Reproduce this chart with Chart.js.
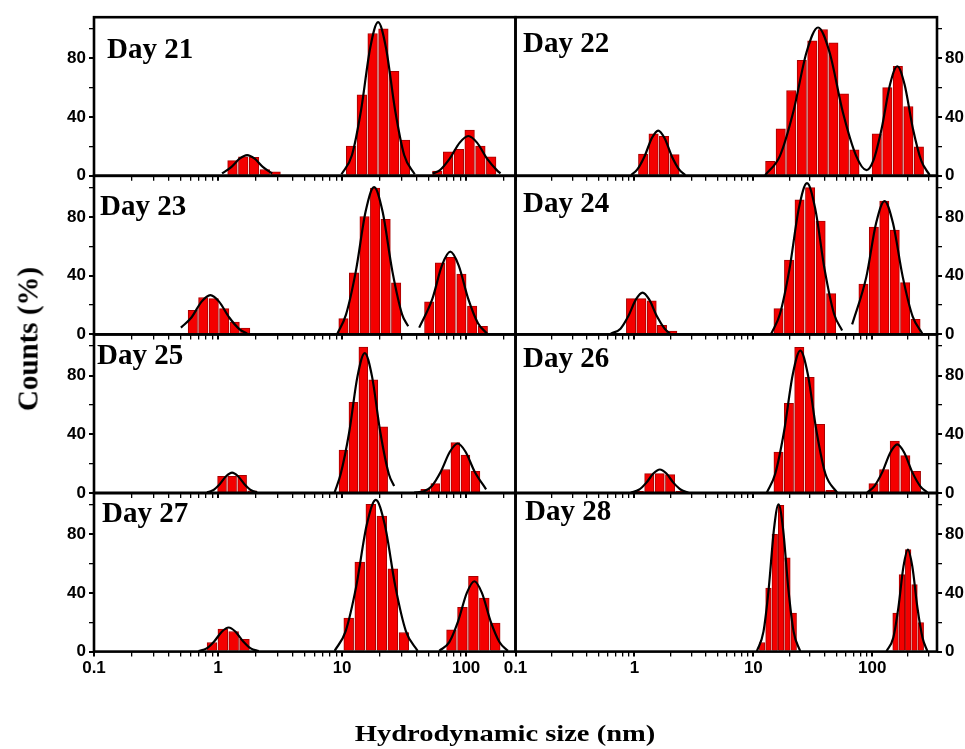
<!DOCTYPE html>
<html><head><meta charset="utf-8">
<script src="https://cdn.jsdelivr.net/npm/chart.js@4.4.1/dist/chart.umd.min.js"></script>
<style>
html,body{margin:0;padding:0;background:#fff}
#wrap{position:relative;width:965px;height:749px;overflow:hidden;background:#fff}
#wrap canvas{position:absolute;left:0;top:0}
.day{position:absolute;font-family:"Liberation Serif","Times New Roman",serif;font-weight:bold;font-size:29px;line-height:29px;color:#000;white-space:nowrap;z-index:5}
#ytitle{position:absolute;left:28px;top:339px;transform:translate(-50%,-50%) rotate(-90deg);font-family:"Liberation Serif","Times New Roman",serif;font-weight:bold;font-size:29px;line-height:29px;white-space:nowrap;color:#000}
#xtitle{position:absolute;left:505px;top:722px;transform:translateX(-50%) scaleX(1.24);font-family:"Liberation Serif","Times New Roman",serif;font-weight:bold;font-size:23px;line-height:23px;white-space:nowrap;color:#000}
</style></head>
<body><div id="wrap">
<canvas id="c0" width="965" height="749"></canvas>
<canvas id="c1" width="965" height="749"></canvas>
<canvas id="c2" width="965" height="749"></canvas>
<canvas id="c3" width="965" height="749"></canvas>
<canvas id="c4" width="965" height="749"></canvas>
<canvas id="c5" width="965" height="749"></canvas>
<canvas id="c6" width="965" height="749"></canvas>
<canvas id="c7" width="965" height="749"></canvas>
<div class="day" style="left:107px;top:34px">Day 21</div>
<div class="day" style="left:523px;top:28px">Day 22</div>
<div class="day" style="left:100px;top:191px">Day 23</div>
<div class="day" style="left:523px;top:188px">Day 24</div>
<div class="day" style="left:97px;top:340px">Day 25</div>
<div class="day" style="left:523px;top:343px">Day 26</div>
<div class="day" style="left:102px;top:498px">Day 27</div>
<div class="day" style="left:525px;top:496px">Day 28</div>
<div id="ytitle">Counts (%)</div>
<div id="xtitle">Hydrodynamic size (nm)</div>
</div>
<script>
// ---- axis ticks ----
const xTickValues = [0.1, 1, 10, 100];
const xTickLabels = ['0.1', '1', '10', '100'];
const yTickLabels = [0, 40, 80];

// ---- histogram bars: [size nm, counts %] ----
const bar21 = [[1.307,10.3],[1.597,13.0],[1.951,12.5],[2.383,4.3],[2.911,2.7],
  [11.81,20.3],[14.43,55.2],[17.62,96.9],[21.53,100],[26.30,71.1],[32.12,24.4],
  [58.55,3.2],[71.51,16.4],[87.35,18.0],[106.7,31.2],[130.3,20.3],[159.2,13.0]];
const bar22 = [[1.184,14.8],[1.449,28.5],[1.774,26.9],[2.171,14.4],
  [13.86,9.8],[16.99,31.9],[20.83,58.1],[25.54,78.7],[31.31,91.9],[38.39,99.6],[47.07,90.5],[57.70,55.9],[70.74,17.6],
  [109.1,28.5],[133.8,60.0],[164.0,74.6],[201.1,47.2],[246.5,19.8]];
const bar23 = [[0.626,16.4],[0.760,25.1],[0.923,24.4],[1.121,17.6],[1.362,8.4],[1.655,4.3],
  [10.26,10.7],[12.48,41.9],[15.17,80.3],[18.45,99.6],[22.44,78.4],[27.28,35.1],
  [50.4,22.1],[61.5,48.8],[75.1,52.4],[91.6,41.0],[111.8,19.2],[136.4,5.5]];
const bar24 = [[0.936,24.4],[1.143,24.4],[1.396,22.8],[1.705,6.2],[2.082,2.3],
  [16.28,17.6],[19.96,50.6],[24.47,91.7],[30.00,99.9],[36.78,77.1],[45.09,27.8],
  [84.3,34.2],[103.1,73.0],[126.2,90.8],[154.4,71.1],[188.9,35.3],[231.1,10.3]];
const bar25 = [[1.077,11.4],[1.298,11.4],[1.564,12.0],[1.885,1.4],
  [10.26,29.2],[12.34,61.8],[14.83,99.4],[17.83,77.1],[21.44,45.1],
  [46.8,2.5],[56.4,6.4],[68.0,16.0],[81.9,34.4],[98.7,25.8],[118.9,14.8]];
const bar26 = [[1.089,1.2],[1.333,13.2],[1.630,13.2],[1.995,12.5],[2.441,1.2],
  [16.28,27.8],[19.90,61.1],[24.33,99.2],[29.74,78.7],[36.36,46.7],[44.45,1.8],
  [102.4,6.4],[125.8,16.0],[154.5,35.3],[189.7,25.5],[233.0,14.8]];
const bar27 = [[0.894,6.2],[1.093,15.3],[1.336,13.7],[1.633,8.4],
  [11.31,22.8],[13.88,60.9],[17.04,100.3],[20.91,92.3],[25.66,56.3],[31.50,13.0],
  [76.2,14.8],[93.4,30.1],[114.4,51.3],[140.1,36.5],[171.6,19.4]];
const bar28 = [[11.86,6.2],[13.40,43.3],[15.14,79.8],[17.11,99.6],[19.34,63.8],[21.85,26.2],
  [156.9,26.2],[177.3,52.4],[200.3,69.5],[226.4,45.6],[255.8,19.8]];

// ---- fitted curves: [size nm, counts %] ----
const fit21a = [[1.077,1.6],[1.284,6.1],[1.501,11.8],[1.716,14.1],[1.962,11.8],[2.294,6.1],[2.733,1.6]];
const fit21b = [[9.89,1],[12.02,14.2],[14.24,45],[16.87,87.4],[19.51,104.7],[22.56,87.4],[26.72,45],[31.65,14.2],[38.49,1]];
const fit21c = [[53.7,1.6],[61.2,3.7],[73.7,11.7],[88.8,22.6],[104.2,27.1],[122.3,22.6],[147.3,11.7],[177.4,3.7],[189,1.6]];
const fit22a = [[0.938,0.5],[1.054,4.2],[1.215,13.2],[1.402,25.7],[1.584,30.8],[1.790,25.7],[2.065,13.2],[2.382,4.2],[2.676,0.5]];
const fit22b = [[12.57,0.5],[16.73,13.6],[21.65,43.4],[28.03,84.3],[34.98,101],[43.64,84.3],[56.5,43.4],[73.16,13.6],[89.36,3.9],
  [101.8,10.1],[119.8,32.1],[141.1,62.3],[162.2,74.6],[186.6,62.3],[219.6,32.1],[258.5,10.1],[303.6,0.5]];
const fit23a = [[0.502,4.6],[0.610,11.5],[0.737,22.3],[0.867,26.7],[1.019,22.3],[1.231,11.5],[1.486,3.6],[1.716,0.5]];
const fit23b = [[9.16,0.5],[10.75,13.5],[12.91,43.1],[15.49,83.8],[18.11,100.3],[21.18,83.8],[25.41,43.1],[30.5,13.5],[34.1,5.5]];
const fit23c = [[41.84,4.6],[53.42,24.2],[63.86,47],[74.54,56.3],[86.99,47],[104.0,24.2],[124.6,7.6],[147.6,0.5]];
const fit24a = [[0.632,0.5],[0.764,3.9],[0.887,12.3],[1.030,23.8],[1.170,28.5],[1.330,23.8],[1.545,12.3],[1.794,3.9],[1.988,0.5]];
const fit24b = [[14.13,0.5],[16.73,13.9],[20.10,44.3],[24.14,86],[28.25,103],[33.06,86],[39.72,44.3],[47.74,13.9],[55.76,2.7]];
const fit24c = [[67.69,6.8],[89.01,39],[107.7,75.8],[126.8,90.8],[149.2,75.8],[180.5,39],[218.3,12.3],[263.5,0.5]];
const fit25a = [[0.815,0.5],[0.911,1.9],[1.031,6],[1.167,11.6],[1.298,13.9],[1.443,11.6],[1.633,6],[1.848,1.9],[2.067,0.5]];
const fit25b = [[8.71,0.5],[9.74,12.9],[11.39,41],[13.32,79.6],[15.23,95.3],[17.41,79.6],[20.36,41],[23.81,12.9],[26.28,4.8]];
const fit25c = [[38.13,0.3],[45.6,1.1],[52.71,4.6],[62.44,14.5],[73.96,28.1],[85.52,33.7],[98.9,28.1],[117.2,14.5],[144.8,2.5]];
const fit26a = [[0.933,0.3],[1.089,2.2],[1.256,6.9],[1.449,13.4],[1.637,16],[1.850,13.4],[2.134,6.9],[2.462,2.2],[2.837,0.3]];
const fit26b = [[13.0,0.3],[15.27,13.1],[18.1,41.7],[21.46,80.9],[24.81,96.9],[28.7,80.9],[34.01,41.7],[40.32,13.1],[50.58,0.3]];
const fit26c = [[90.58,0.3],[103.8,4.5],[121.3,14.2],[141.9,27.6],[162.2,33.1],[185.4,27.6],[216.8,14.2],[253.5,4.5],[290.4,0.3]];
const fit27a = [[0.697,0.3],[0.809,2.2],[0.934,7.1],[1.077,13.7],[1.218,16.4],[1.377,13.7],[1.590,7.1],[1.835,2.2],[2.129,0.3]];
const fit27b = [[8.71,0.5],[10.69,14],[13.0,44.4],[15.8,86.3],[18.69,103.3],[22.1,86.3],[26.87,44.4],[32.67,14],[40.62,0.5]];
const fit27c = [[60.73,0.5],[73.15,6.5],[86.08,20.6],[101.3,40],[116.5,47.9],[134.0,40],[157.6,20.6],[185.5,6.5],[217,0.5]];
const fit28a = [[10.7,0.3],[12.16,13.6],[13.47,43.1],[14.92,83.8],[16.28,100.3],[17.76,83.8],[19.67,43.1],[21.79,13.6],[24.76,0.3]];
const fit28b = [[131.7,0.3],[150.1,9.4],[165.7,29.9],[182.9,58],[199.2,69.5],[217,58],[239.6,29.9],[264.5,9.4],[290.4,0.3]];

// ---- panel layout (styles only) ----
const panels = [
  {bars: bar21, fits: [fit21a, fit21b, fit21c], col: 0, row: 0, thick: 9.6},
  {bars: bar22, fits: [fit22a, fit22b], col: 1, row: 0, thick: 9.4},
  {bars: bar23, fits: [fit23a, fit23b, fit23c], col: 0, row: 1, thick: 9.4},
  {bars: bar24, fits: [fit24a, fit24b, fit24c], col: 1, row: 1, thick: 9.3},
  {bars: bar25, fits: [fit25a, fit25b, fit25c], col: 0, row: 2, thick: 8.9},
  {bars: bar26, fits: [fit26a, fit26b, fit26c], col: 1, row: 2, thick: 9.3},
  {bars: bar27, fits: [fit27a, fit27b, fit27c], col: 0, row: 3, thick: 9.8},
  {bars: bar28, fits: [fit28a, fit28b], col: 1, row: 3, thick: 5.6}
];

const X_MIN = 0.1, X_MAX_LEFT = 250, X_MAX_RIGHT = 350, Y_MAX = 108;
const tickFont = {family: "Arial, 'Liberation Sans', sans-serif", size: 17, weight: 'bold'};

function isDecade(v) { const l = Math.log10(v); return Math.abs(l - Math.round(l)) < 1e-6; }
function isNice(v) {
  const e = Math.floor(Math.log10(v) + 1e-9);
  const s = v / Math.pow(10, e);
  return Math.abs(s - Math.round(s)) < 1e-6;
}

const framePlugin = {
  id: 'frame',
  afterDatasetsDraw(chart) {
    const {ctx, chartArea: a} = chart;
    ctx.save();
    ctx.strokeStyle = '#000';
    ctx.lineWidth = 2.6;
    ctx.strokeRect(a.left, a.top, a.right - a.left, a.bottom - a.top);
    ctx.restore();
  }
};

panels.forEach((p, i) => {
  const top = 17.2 + p.row * 158.6;
  const bottom = top + 158.6;
  const isBottom = p.row === 3;
  const isLeft = p.col === 0;
  const xh = isBottom ? 30 : 8;
  const yw = isLeft ? 40 : 28;
  const padding = isLeft
    ? {left: 94 - yw, right: 965 - 515.5, top: top, bottom: 749 - bottom - xh}
    : {left: 515.5, right: 965 - 937 - yw, top: top, bottom: 749 - bottom - xh};

  const datasets = [];
  p.fits.forEach(f => {
    datasets.push({
      type: 'line',
      data: f.map(([s, c]) => ({x: s, y: c})),
      borderColor: '#000',
      borderWidth: 2.2,
      pointRadius: 0,
      fill: false,
      cubicInterpolationMode: 'monotone',
      order: 1
    });
  });
  datasets.push({
    type: 'bar',
    data: p.bars.map(([s, c]) => ({x: s, y: c})),
    backgroundColor: '#f40000',
    borderColor: '#a80000',
    borderWidth: 1,
    barThickness: p.thick,
    order: 2
  });

  new Chart(document.getElementById('c' + i), {
    type: 'bar',
    data: {datasets},
    options: {
      responsive: false,
      animation: false,
      devicePixelRatio: 1,
      layout: {padding},
      plugins: {legend: {display: false}, tooltip: {enabled: false}},
      scales: {
        x: {
          type: 'logarithmic',
          min: X_MIN,
          max: isLeft ? X_MAX_LEFT : X_MAX_RIGHT,
          offset: false,
          afterBuildTicks: (s) => { s.ticks = s.ticks.filter(t => isNice(t.value)); },
          afterFit: (s) => { s.height = xh; },
          border: {display: false},
          grid: {
            offset: false,
            drawOnChartArea: false,
            drawTicks: true,
            tickLength: 5,
            color: '#000',
            lineWidth: (ctx) => (ctx.tick && isDecade(ctx.tick.value)) ? 2 : 1.3
          },
          ticks: {
            display: isBottom,
            autoSkip: false,
            maxRotation: 0,
            minRotation: 0,
            padding: 2,
            color: '#000',
            font: tickFont,
            callback: (v) => {
              const k = xTickValues.findIndex(t => Math.abs(Math.log10(t) - Math.log10(v)) < 1e-6);
              return k >= 0 ? xTickLabels[k] : '';
            }
          }
        },
        y: {
          type: 'linear',
          position: isLeft ? 'left' : 'right',
          min: 0,
          max: Y_MAX,
          afterFit: (s) => { s.width = yw; },
          border: {display: false},
          grid: {
            drawOnChartArea: false,
            drawTicks: true,
            tickLength: 5,
            color: '#000',
            lineWidth: (ctx) => (ctx.tick && yTickLabels.includes(ctx.tick.value)) ? 2 : 1.3
          },
          ticks: {
            stepSize: 20,
            includeBounds: false,
            padding: 3,
            color: '#000',
            font: tickFont,
            callback: (v) => yTickLabels.includes(v) ? String(v) : ''
          }
        }
      }
    },
    plugins: [framePlugin]
  });
});
</script>
</body></html>
